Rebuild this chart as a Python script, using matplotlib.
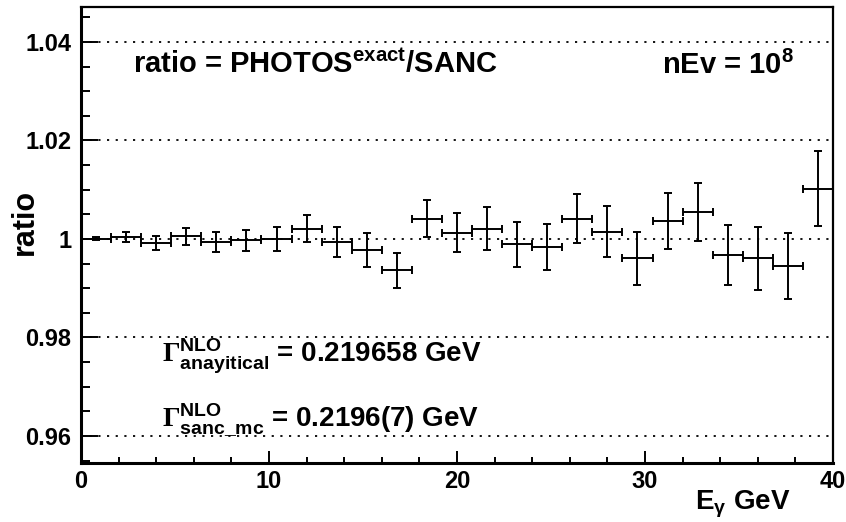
import matplotlib
matplotlib.use("Agg")
import matplotlib.pyplot as plt
from matplotlib.ticker import MultipleLocator

plt.rcParams['font.family'] = ['Liberation Sans', 'DejaVu Sans']
plt.rcParams['font.weight'] = 'bold'
plt.rcParams['mathtext.fontset'] = 'custom'
plt.rcParams['mathtext.rm'] = 'Liberation Serif'
plt.rcParams['mathtext.bf'] = 'Liberation Sans:bold'
plt.rcParams['mathtext.sf'] = 'Liberation Sans'
plt.rcParams['mathtext.it'] = 'Liberation Sans:italic'

# ---- data ----
e_gamma = [0.8, 2.4, 4.0, 5.6, 7.2, 8.8, 10.4, 12.0, 13.6, 15.2, 16.8, 18.4, 20.0,
           21.6, 23.2, 24.8, 26.4, 28.0, 29.6, 31.2, 32.8, 34.4, 36.0, 37.6, 39.2]
bin_halfwidth = [0.8] * 25
ratio = [1.0000, 1.0004, 0.9992, 1.0005, 0.9994, 0.9997, 1.0000, 1.0021, 0.9994,
         0.9978, 0.9936, 1.0041, 1.0013, 1.0021, 0.9989, 0.9983, 1.0041, 1.0015,
         0.9961, 1.0036, 1.0054, 0.9968, 0.9961, 0.9946, 1.0102]
ratio_err = [0.0003, 0.0010, 0.0014, 0.0017, 0.0020, 0.0022, 0.0025, 0.0028, 0.0031,
             0.0034, 0.0035, 0.0038, 0.0040, 0.0043, 0.0045, 0.0047, 0.0050, 0.0052,
             0.0054, 0.0057, 0.0059, 0.0061, 0.0064, 0.0067, 0.0076]
y_ticks = [0.96, 0.98, 1.0, 1.02, 1.04]
y_ticklabels = ['0.96', '0.98', '1', '1.02', '1.04']
x_ticks = [0, 10, 20, 30, 40]
x_ticklabels = ['0', '10', '20', '30', '40']

W, H = 846, 522
fig = plt.figure(figsize=(W / 100, H / 100), dpi=100)
ax = fig.add_axes([81 / W, 59 / H, (833 - 81) / W, (463 - 7) / H])

ax.errorbar(e_gamma, ratio, xerr=bin_halfwidth, yerr=ratio_err, fmt='none',
            ecolor='black', elinewidth=1.4, capsize=3.2, capthick=1.4)

ax.set_xlim(0, 40)
ax.set_ylim(0.9545, 1.0471)

for yv in y_ticks:
    ax.axhline(yv, color='black', lw=1.3, linestyle=(0, (1.2, 3.6)), zorder=0)

ax.set_yticks(y_ticks)
ax.set_yticklabels(y_ticklabels)
ax.set_xticks(x_ticks)
ax.set_xticklabels(x_ticklabels)
ax.yaxis.set_minor_locator(MultipleLocator(0.005))
ax.xaxis.set_minor_locator(MultipleLocator(2))
ax.tick_params(axis='y', which='major', direction='in', length=12.5, width=1.4,
               labelsize=17, pad=7)
ax.tick_params(axis='y', which='minor', direction='in', length=6.5, width=1.4)
ax.tick_params(axis='x', which='major', direction='in', length=9, width=1.4,
               labelsize=17, pad=5)
ax.tick_params(axis='x', which='minor', direction='in', length=4.5, width=1.4)
for lab in ax.get_xticklabels() + ax.get_yticklabels():
    lab.set_fontweight('bold')

for side in ['left', 'bottom']:
    ax.spines[side].set_linewidth(2.2)
for side in ['right', 'top']:
    ax.spines[side].set_linewidth(1.6)

ax.text(2.75, 1.0337, r'ratio = PHOTOS$^{\mathbf{exact}}$/SANC', fontsize=21,
        fontweight='bold', va='baseline', ha='left')
ax.text(30.9, 1.0335, r'nEv = 10$^{\mathbf{8}}$', fontsize=21,
        fontweight='bold', va='baseline', ha='left')
ax.text(4.3, 0.9750, r'$\Gamma^{\mathbf{NLO}}_{\mathbf{anayitical}}$ = 0.219658 GeV',
        fontsize=20, fontweight='bold', va='baseline', ha='left')
ax.text(4.3, 0.9618, r'$\Gamma^{\mathbf{NLO}}_{\mathbf{sanc\_mc}}$ = 0.2196(7) GeV',
        fontsize=20, fontweight='bold', va='baseline', ha='left')

fig.text(790 / W, (H - 510) / H, r'E$_{\mathsf{\gamma}}$ GeV', fontsize=20,
         fontweight='bold', ha='right', va='baseline')
fig.text(25 / W, 1 - 222 / H, 'ratio', fontsize=22, fontweight='bold',
         rotation=90, ha='center', va='center')

fig.savefig('out.png', dpi=100)
